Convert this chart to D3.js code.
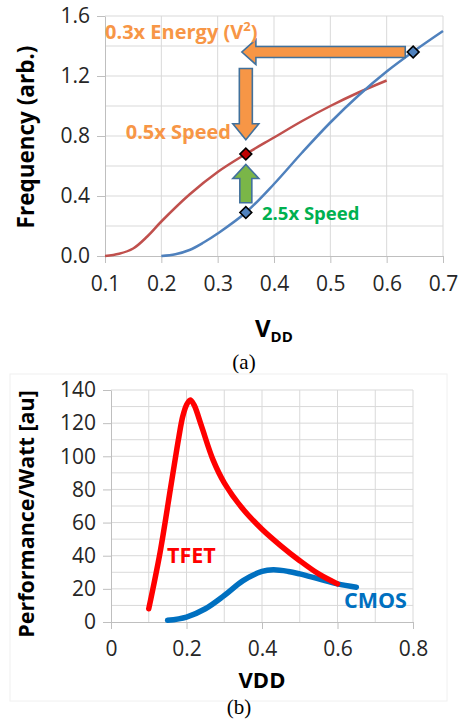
<!DOCTYPE html>
<html>
<head>
<meta charset="utf-8">
<script src="https://cdn.jsdelivr.net/npm/d3@7"></script>
<style>
  body { margin: 0; background: #fff; }
  text { font-family: "Open Sans", sans-serif; }
</style>
</head>
<body>
<div id="chart"></div>
<script>
// (a) frequency vs VDD
var vddTfet = [0.1, 0.125, 0.15, 0.175, 0.2, 0.25, 0.3, 0.35, 0.4, 0.45, 0.5, 0.55, 0.6]
var freqTfet = [0.0, 0.015, 0.05, 0.13, 0.23, 0.41, 0.56, 0.68, 0.79, 0.9, 1.0, 1.09, 1.17]
var vddCmos = [0.2, 0.225, 0.25, 0.275, 0.3, 0.35, 0.4, 0.45, 0.5, 0.55, 0.6, 0.65, 0.7]
var freqCmos = [0.0, 0.012, 0.04, 0.09, 0.15, 0.29, 0.48, 0.69, 0.89, 1.07, 1.23, 1.37, 1.5]
var markerVdd = [0.35, 0.35, 0.647]
var markerFreq = [0.68, 0.29, 1.36]
var markerKind = ["tfet", "cmos", "cmos"]
var xTicksA = [0.1, 0.2, 0.3, 0.4, 0.5, 0.6, 0.7]
var yTicksA = [0.0, 0.4, 0.8, 1.2, 1.6]

// (b) performance per watt vs VDD
var vddPerfT = [0.1, 0.13, 0.16, 0.18, 0.19, 0.2, 0.21, 0.22, 0.24, 0.27, 0.3, 0.35, 0.4, 0.45, 0.5, 0.55, 0.6]
var perfTfet = [8, 42, 84, 112, 124, 131, 134, 131, 118, 98, 84, 68, 56, 46, 37, 29, 23]
var vddPerfC = [0.15, 0.2, 0.25, 0.3, 0.35, 0.4, 0.43, 0.47, 0.5, 0.55, 0.6, 0.65]
var perfCmos = [1, 3, 8, 16, 25, 30.5, 31.5, 30.5, 29, 26, 23, 21]
var xTicksB = [0, 0.2, 0.4, 0.6, 0.8]
var yTicksB = [0, 20, 40, 60, 80, 100, 120, 140]

var W = 464, H = 722
var svg = d3.select("#chart").append("svg")
    .attr("width", W)
    .attr("height", H)

var grid = "#d9d9d9", axisCol = "#bfbfbf", txt = "#262626"

function zip(xs, ys) { return xs.map(function(x, i) { return [x, ys[i]] }) }

function arrowPath(x1, y1, x2, y2, sw, hw, hl) {
  var dx = x2-x1, dy = y2-y1, L = Math.hypot(dx, dy),
      ux = dx/L, uy = dy/L, px = -uy, py = ux,
      bx = x2-ux*hl, by = y2-uy*hl
  var pts = [
    [x1+px*sw, y1+py*sw], [bx+px*sw, by+py*sw], [bx+px*hw, by+py*hw],
    [x2, y2],
    [bx-px*hw, by-py*hw], [bx-px*sw, by-py*sw], [x1-px*sw, y1-py*sw]
  ]
  return "M" + pts.map(function(p) { return p[0]+","+p[1] }).join("L") + "Z"
}

// ---------- panel (a)
var xA = d3.scaleLinear().domain([0.1, 0.7]).range([105, 443])
var yA = d3.scaleLinear().domain([0, 1.6]).range([256, 16])

var gA = svg.append("g")
gA.selectAll("line.vgrid")
    .data(d3.range(0.2, 0.71, 0.1))
  .enter().append("line")
    .attr("x1", function(d) { return xA(d) }).attr("x2", function(d) { return xA(d) })
    .attr("y1", yA(0)).attr("y2", yA(1.6))
    .style("stroke", grid).style("stroke-width", 1)
gA.selectAll("line.hgrid")
    .data(d3.range(0.2, 1.61, 0.2))
  .enter().append("line")
    .attr("x1", xA(0.1)).attr("x2", xA(0.7))
    .attr("y1", function(d) { return yA(d) }).attr("y2", function(d) { return yA(d) })
    .style("stroke", grid).style("stroke-width", 1)

var axA = gA.append("g").attr("transform", "translate(0,"+yA(0)+")")
    .call(d3.axisBottom(xA).tickValues(xTicksA).tickSize(7).tickSizeOuter(0).tickPadding(13)
      .tickFormat(d3.format(".1f")))
var ayA = gA.append("g").attr("transform", "translate("+xA(0.1)+",0)")
    .call(d3.axisLeft(yA).tickValues(yTicksA).tickSize(8).tickSizeOuter(0).tickPadding(7)
      .tickFormat(d3.format(".1f")))
;[axA, ayA].forEach(function(a) {
  a.selectAll("path, line").style("stroke", axisCol)
  a.selectAll("text").style("font-size", "21px").style("fill", txt)
})

var lineA = d3.line()
    .x(function(d) { return xA(d[0]) })
    .y(function(d) { return yA(d[1]) })
    .curve(d3.curveCatmullRom)

gA.append("path").datum(zip(vddTfet, freqTfet))
    .attr("d", lineA)
    .style("fill", "none").style("stroke", "#c0504d").style("stroke-width", 2.5)
gA.append("path").datum(zip(vddCmos, freqCmos))
    .attr("d", lineA)
    .style("fill", "none").style("stroke", "#4f81bd").style("stroke-width", 2.5)

// arrows (data coords of tail and tip)
var arrows = [
  { x1: 0.633, y1: 1.36, x2: 0.343, y2: 1.36, sw: 5.5, hw: 12.5, hl: 14, fill: "#f79646" },
  { x1: 0.35, y1: 1.25, x2: 0.35, y2: 0.775, sw: 6.5, hw: 13, hl: 16, fill: "#f79646" },
  { x1: 0.35, y1: 0.355, x2: 0.35, y2: 0.61, sw: 6, hw: 13, hl: 14, fill: "#7ab648" }
]
gA.selectAll("path.arrow")
    .data(arrows)
  .enter().append("path")
    .attr("class", "arrow")
    .attr("d", function(d) { return arrowPath(xA(d.x1), yA(d.y1), xA(d.x2), yA(d.y2), d.sw, d.hw, d.hl) })
    .style("fill", function(d) { return d.fill })
    .style("stroke", "#41719c").style("stroke-width", 1.6)

gA.selectAll("path.marker")
    .data(zip(markerVdd, markerFreq))
  .enter().append("path")
    .attr("class", "marker")
    .attr("d", d3.symbol().type(d3.symbolSquare).size(70))
    .attr("transform", function(d) { return "translate("+xA(d[0])+","+yA(d[1])+") rotate(45)" })
    .style("fill", function(d, i) { return markerKind[i] == "tfet" ? "#c00000" : "#4f81bd" })
    .style("stroke", "#000").style("stroke-width", 1.6)

var eLbl = gA.append("text")
    .attr("x", 105).attr("y", 39)
    .style("font-size", "20px").style("font-weight", "bold").style("fill", "#f79646")
eLbl.append("tspan").text("0.3x Energy (V")
eLbl.append("tspan").text("2").attr("dy", -8).style("font-size", "13px")
eLbl.append("tspan").text(")").attr("dy", 8)

gA.append("text")
    .attr("x", 231).attr("y", 139).attr("text-anchor", "end")
    .style("font-size", "20px").style("font-weight", "bold").style("fill", "#f79646")
    .text("0.5x Speed")
gA.append("text")
    .attr("x", 262).attr("y", 220)
    .style("font-size", "18.5px").style("font-weight", "bold").style("fill", "#00b050")
    .text("2.5x Speed")

gA.append("text")
    .attr("transform", "translate(34,137) rotate(-90)")
    .attr("text-anchor", "middle")
    .style("font-size", "22.5px").style("font-weight", "bold").style("fill", "#000")
    .text("Frequency (arb.)")

var vLbl = gA.append("text")
    .attr("x", 255).attr("y", 337)
    .style("font-size", "24px").style("font-weight", "bold").style("fill", "#000")
vLbl.append("tspan").text("V")
vLbl.append("tspan").text("DD").attr("dy", 5).style("font-size", "15px")

svg.append("text")
    .attr("x", 244).attr("y", 369).attr("text-anchor", "middle")
    .style("font-family", "'Liberation Serif', serif").style("font-size", "21px")
    .text("(a)")

// ---------- panel (b)
var xB = d3.scaleLinear().domain([0, 0.8]).range([111, 413])
var yB = d3.scaleLinear().domain([0, 140]).range([622, 390])

svg.append("rect")
    .attr("x", 10).attr("y", 374).attr("width", 437).attr("height", 327)
    .style("fill", "none").style("stroke", "#f0f0f0").style("stroke-width", 1)

var gB = svg.append("g")
gB.selectAll("line.vgrid")
    .data(d3.range(0.1, 0.81, 0.1))
  .enter().append("line")
    .attr("x1", function(d) { return xB(d) }).attr("x2", function(d) { return xB(d) })
    .attr("y1", yB(0)).attr("y2", yB(140))
    .style("stroke", grid).style("stroke-width", 1)
gB.selectAll("line.hgrid")
    .data(d3.range(10, 141, 10))
  .enter().append("line")
    .attr("x1", xB(0)).attr("x2", xB(0.8))
    .attr("y1", function(d) { return yB(d) }).attr("y2", function(d) { return yB(d) })
    .style("stroke", grid).style("stroke-width", 1)

var axB = gB.append("g").attr("transform", "translate(0,"+yB(0)+")")
    .call(d3.axisBottom(xB).tickValues(xTicksB).tickSize(7).tickSizeOuter(0).tickPadding(12)
      .tickFormat(function(d) { return d === 0 ? "0" : d3.format(".1f")(d) }))
var ayB = gB.append("g").attr("transform", "translate("+xB(0)+",0)")
    .call(d3.axisLeft(yB).tickValues(yTicksB).tickSize(8).tickSizeOuter(0).tickPadding(7))
;[axB, ayB].forEach(function(a) {
  a.selectAll("path, line").style("stroke", axisCol)
  a.selectAll("text").style("font-size", "21px").style("fill", txt)
})

var lineB = d3.line()
    .x(function(d) { return xB(d[0]) })
    .y(function(d) { return yB(d[1]) })
    .curve(d3.curveCatmullRom)

gB.append("path").datum(zip(vddPerfC, perfCmos))
    .attr("d", lineB)
    .style("fill", "none").style("stroke", "#0070c0").style("stroke-width", 5.5)
    .style("stroke-linecap", "round")
gB.append("path").datum(zip(vddPerfT, perfTfet))
    .attr("d", lineB)
    .style("fill", "none").style("stroke", "#ff0000").style("stroke-width", 5.5)
    .style("stroke-linecap", "round").style("stroke-linejoin", "round")

gB.append("text")
    .attr("x", 167).attr("y", 563)
    .style("font-size", "21.5px").style("font-weight", "bold").style("fill", "#ff0000")
    .text("TFET")
gB.append("text")
    .attr("x", 344).attr("y", 608)
    .style("font-size", "21.5px").style("font-weight", "bold").style("fill", "#0070c0")
    .text("CMOS")

gB.append("text")
    .attr("transform", "translate(34,514) rotate(-90)")
    .attr("text-anchor", "middle")
    .style("font-size", "21.5px").style("font-weight", "bold").style("fill", "#000")
    .text("Performance/Watt [au]")
gB.append("text")
    .attr("x", 262).attr("y", 688).attr("text-anchor", "middle")
    .style("font-size", "22px").style("font-weight", "bold").style("fill", "#000")
    .text("VDD")

svg.append("text")
    .attr("x", 239).attr("y", 714).attr("text-anchor", "middle")
    .style("font-family", "'Liberation Serif', serif").style("font-size", "21px")
    .text("(b)")
</script>
</body>
</html>
